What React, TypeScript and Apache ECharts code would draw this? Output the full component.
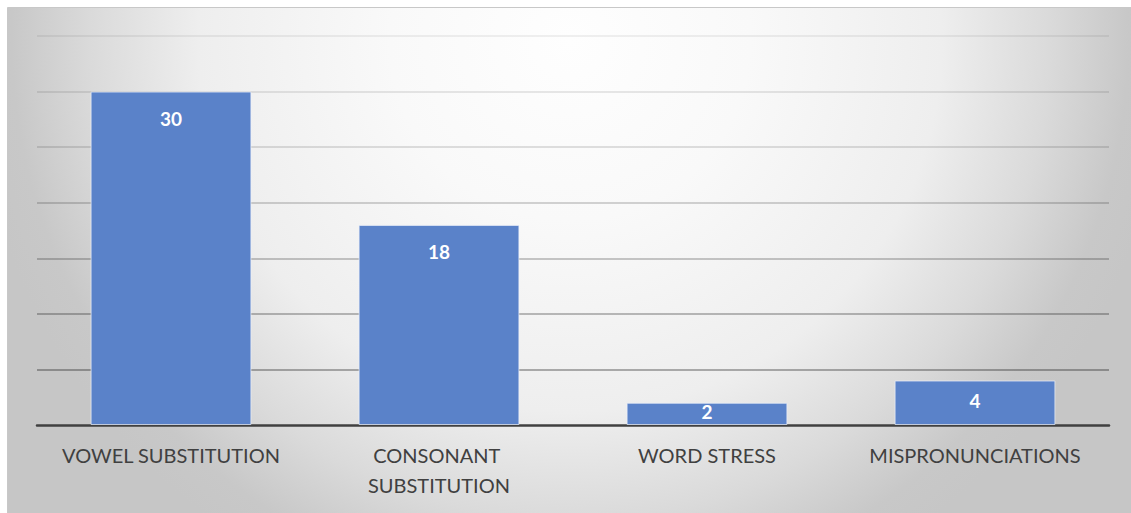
import React, { useEffect, useRef } from "react";
import * as echarts from "echarts";

const categories = ["VOWEL SUBSTITUTION", "CONSONANT SUBSTITUTION", "WORD STRESS", "MISPRONUNCIATIONS"];
const counts = [30, 18, 2, 4];
const yMin = 0;
const yMax = 35;
const yStep = 5;
// gridline shades from the baseline upward (darker near the bottom)
const gridShades = [
  "rgba(0,0,0,0)",
  "rgba(0,0,0,0.40)",
  "rgba(0,0,0,0.34)",
  "rgba(0,0,0,0.28)",
  "rgba(0,0,0,0.22)",
  "rgba(0,0,0,0.16)",
  "rgba(0,0,0,0.12)",
  "rgba(0,0,0,0.08)",
];

const W = 1131;
const H = 513;

export default function App() {
  const ref = useRef<HTMLDivElement>(null);

  useEffect(() => {
    if (!ref.current) return;
    const chart = echarts.init(ref.current, null, { renderer: "svg" });
    const font = "Lato, 'Open Sans', sans-serif";

    const bg = new echarts.graphic.RadialGradient(
      570,
      40,
      600,
      [
        { offset: 0, color: "#fefefe" },
        { offset: 0.3, color: "#f9f9f9" },
        { offset: 0.62, color: "#eeeeee" },
        { offset: 0.8, color: "#dadada" },
        { offset: 0.93, color: "#c8c8c8" },
        { offset: 1, color: "#c6c6c6" },
      ],
      true
    );

    chart.setOption({
      animation: false,
      backgroundColor: "#ffffff",
      graphic: [
        {
          type: "rect",
          z: -10,
          silent: true,
          shape: { x: 7.5, y: 7.5, width: W - 7, height: H - 7 },
          style: { fill: bg, stroke: "#c8c8c8", lineWidth: 1 },
        },
      ],
      grid: { left: 37, right: 22, top: 36, bottom: 88, containLabel: false },
      xAxis: {
        type: "category",
        data: categories,
        axisTick: { show: false },
        axisLine: { show: true, lineStyle: { color: "#404040", width: 2.5 } },
        axisLabel: {
          color: "#404040",
          fontFamily: font,
          fontSize: 20,
          margin: 15,
          lineHeight: 30,
          width: 250,
          overflow: "break",
          interval: 0,
        },
      },
      yAxis: {
        type: "value",
        min: yMin,
        max: yMax,
        interval: yStep,
        axisLabel: { show: false },
        axisLine: { show: false },
        axisTick: { show: false },
        splitLine: { show: true, lineStyle: { color: gridShades, width: 1.5 } },
      },
      series: [
        {
          type: "bar",
          barWidth: "60%",
          data: counts.map((v) => ({
            value: v,
            label:
              v >= 10
                ? { position: "insideTop", distance: 17 }
                : { position: "inside", offset: [0, -2] },
          })),
          itemStyle: {
            color: "#5a82c9",
            borderColor: "rgba(235,240,250,0.7)",
            borderWidth: 1,
          },
          label: {
            show: true,
            color: "#ffffff",
            fontFamily: font,
            fontWeight: "bold",
            fontSize: 19,
          },
        },
      ],
    });

    return () => chart.dispose();
  }, []);

  return (
    <div
      ref={ref}
      style={{ position: "fixed", left: 0, top: 0, width: W, height: H }}
    />
  );
}
